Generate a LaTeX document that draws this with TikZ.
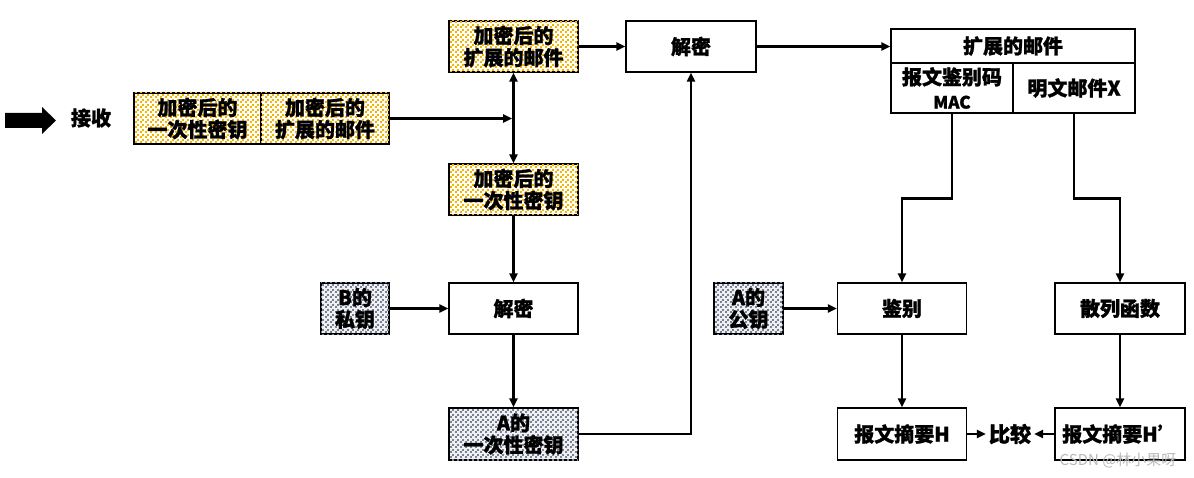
\documentclass[tikz,border=0pt]{standalone}
\usepackage{fontspec}
\setmainfont{Noto Sans CJK SC}[BoldFeatures={FakeBold=1.3}]
\usetikzlibrary{arrows.meta,patterns.meta,calc}
\definecolor{dotorange}{HTML}{F5B400}
\definecolor{dotgray}{HTML}{7A8292}
\definecolor{bggray}{HTML}{EEF0F3}
\tikzdeclarepattern{
  name=sqdots,
  type=uncolored,
  bounding box={(0pt,0pt) and (5pt,5pt)},
  tile size={(5pt,5pt)},
  code={
    \pgfpathrectangle{\pgfpointorigin}{\pgfpoint{2.1pt}{2.1pt}}
    \pgfpathrectangle{\pgfpoint{2.5pt}{2.5pt}}{\pgfpoint{2.1pt}{2.1pt}}
    \pgfusepath{fill}
  }
}
\tikzset{
  box/.style={draw=black, line width=1.2pt, fill=white, align=center, inner sep=0pt,
    minimum height=51pt, font=\fontsize{20}{22}\selectfont\bfseries},
  obox/.style={box, fill=white, postaction={pattern=sqdots, pattern color=dotorange}},
  gbox/.style={box, fill=bggray, postaction={pattern=sqdots, pattern color=dotgray}},
  conn/.style={line width=2.8pt, -{Triangle[length=9pt,width=8pt]}},
}
\begin{document}
\begin{tikzpicture}[x=1pt,y=-1pt]
\useasboundingbox (0,0) rectangle (1194,478);
% big arrow
\fill[black] (5,113) -- (42,113) -- (42,107) -- (56,120.5) -- (42,134) -- (42,128) -- (5,128) -- cycle;
\node[font=\fontsize{20}{22}\selectfont\bfseries] (recv) at (91,118) {接收};
% left combined box
\node[obox, minimum width=127pt] (comb1) at (197.5,118.5) {加密后的\\一次性密钥};
\node[obox, minimum width=128pt] (comb2) at (325,118.5) {加密后的\\扩展的邮件};
% middle column
\node[obox, minimum width=129pt] (encmail) at (513.5,46.5) {加密后的\\扩展的邮件};
\node[box, minimum width=130pt] (dec1) at (691,46.5) {解密};
\node[obox, minimum width=129pt] (enckey) at (513.5,189.5) {加密后的\\一次性密钥};
\node[gbox, minimum width=68pt] (bpriv) at (355,308.5) {B的\\私钥};
\node[box, minimum width=129pt] (dec2) at (513.5,308.5) {解密};
\node[gbox, minimum width=129pt, minimum height=52pt] (akey) at (513.5,434) {A的\\一次性密钥};
% right part
\node[box, minimum width=244pt, minimum height=34pt] (ext) at (1013,46) {扩展的邮件};
\node[box, minimum width=122pt, minimum height=50pt, font=\fontsize{20}{24}\selectfont\bfseries] (mac) at (952,88) {报文鉴别码\\{\fontsize{17}{20}\selectfont MAC}};
\node[box, minimum width=122pt, minimum height=50pt] (plain) at (1074,88) {明文邮件X};
\node[gbox, minimum width=69pt] (apub) at (748.5,308.5) {A的\\公钥};
\node[box, minimum width=129pt] (auth) at (902,308.5) {鉴别};
\node[box, minimum width=130pt] (hash) at (1120,308.5) {散列函数};
\node[box, minimum width=129pt, minimum height=52pt] (hH) at (902,434) {报文摘要H};
\node[box, minimum width=130pt, minimum height=52pt] (hH2) at (1120,434) {报文摘要H’};
\node[font=\fontsize{21}{22}\selectfont\bfseries, inner sep=3pt] (cmp) at (1010,434) {比较};
% watermark
\node[text=gray!55, font=\fontsize{15}{16}\selectfont, anchor=east] (wm) at (1180,460) {CSDN @林小果呀};
% connectors
\draw[conn, shorten >=1.4pt] (comb2.east) -- (encmail.south |- comb2.east);
\draw[line width=2.8pt, {Triangle[length=9pt,width=8pt]}-{Triangle[length=9pt,width=8pt]}] (encmail.south) -- (enckey.north);
\draw[conn] (encmail.east) -- (dec1.west);
\draw[conn] (enckey.south) -- (dec2.north);
\draw[conn] (bpriv.east) -- (dec2.west);
\draw[conn] (dec2.south) -- (akey.north);
\draw[conn] (akey.east) -| (dec1.south);
\draw[conn] (dec1.east) -- (dec1.east -| ext.west);
\draw[conn] (mac.south) -- ++(0,85) -| (auth.north);
\draw[conn] (plain.south) -- ++(0,85) -| (hash.north);
\draw[conn] (apub.east) -- (auth.west);
\draw[conn] (auth.south) -- (hH.north);
\draw[conn] (hash.south) -- (hH2.north);
\draw[conn] (hH.east) -- (cmp.west);
\draw[conn] (hH2.west) -- (cmp.east);
\end{tikzpicture}
\end{document}
